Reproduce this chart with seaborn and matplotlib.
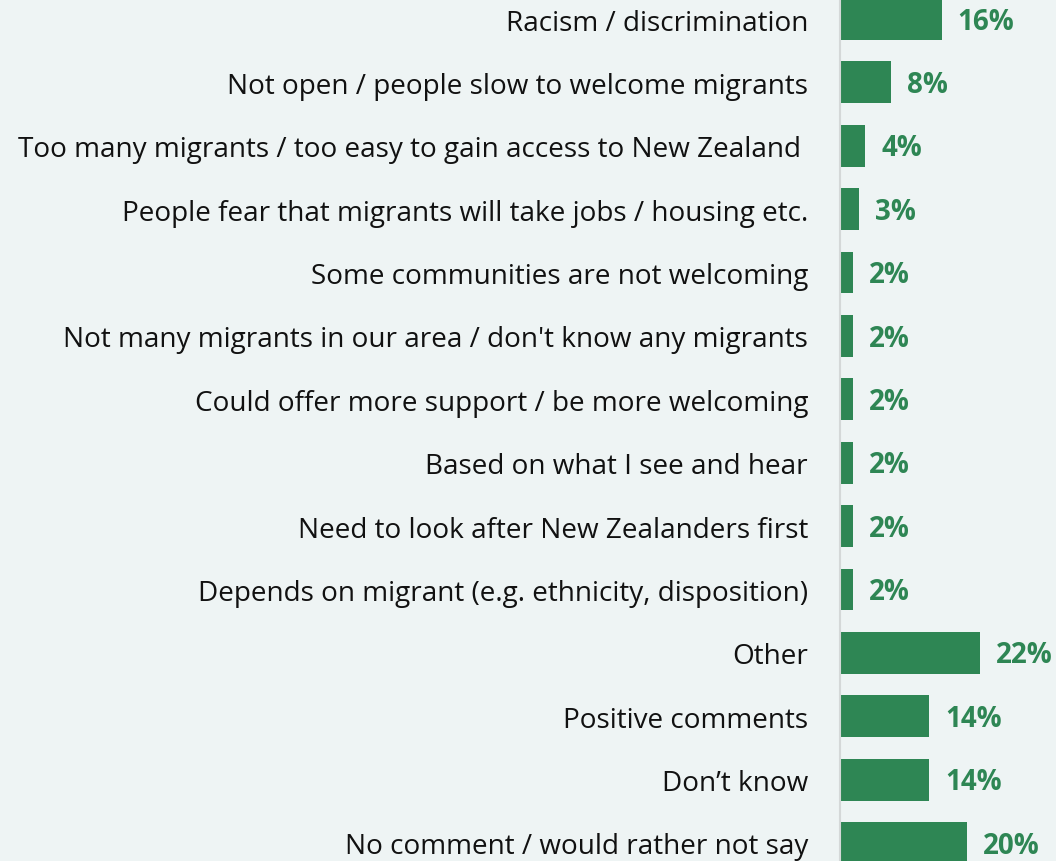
import matplotlib
matplotlib.use("Agg")
import matplotlib.pyplot as plt
import seaborn as sns
import pandas as pd

categories = [
    "Racism / discrimination",
    "Not open / people slow to welcome migrants",
    "Too many migrants / too easy to gain access to New Zealand ",
    "People fear that migrants will take jobs / housing etc.",
    "Some communities are not welcoming",
    "Not many migrants in our area / don't know any migrants",
    "Could offer more support / be more welcoming",
    "Based on what I see and hear",
    "Need to look after New Zealanders first",
    "Depends on migrant (e.g. ethnicity, disposition)",
    "Other",
    "Positive comments",
    "Don\u2019t know",
    "No comment / would rather not say",
]
values = [16, 8, 4, 3, 2, 2, 2, 2, 2, 2, 22, 14, 14, 20]
value_labels = [f"{v}%" for v in values]

BG = "#eef4f4"
GREEN = "#2e8654"

sns.set_theme(style="white")
plt.rcParams["font.family"] = ["Open Sans", "DejaVu Sans"]

df = pd.DataFrame({"category": categories, "value": values})

fig = plt.figure(figsize=(10.56, 8.62), dpi=100)
fig.patch.set_facecolor(BG)
ax = fig.add_axes([840 / 1056, 0, 216 / 1056, 1])
ax.set_facecolor(BG)

sns.barplot(data=df, x="value", y="category", orient="h", color=GREEN,
            width=0.66, saturation=1, linewidth=0, ax=ax)

ax.set_xlim(0, 34)
ax.set_ylim(13.284, -0.316)

for i, (v, lab) in enumerate(zip(values, value_labels)):
    ax.annotate(lab, xy=(v, i), xytext=(11.5, -1.5), textcoords="offset points",
                ha="left", va="center", fontsize=20, fontweight="bold",
                color=GREEN)

ax.set_xlabel("")
ax.set_ylabel("")
ax.set_xticks([])
ax.tick_params(axis="y", length=0, pad=23, labelsize=20.1, labelcolor="#111111")
for s in ["top", "right", "bottom"]:
    ax.spines[s].set_visible(False)
ax.spines["left"].set_color("#d4d8d8")
ax.spines["left"].set_linewidth(1.5)

fig.savefig("out.png", dpi=100, facecolor=BG)
